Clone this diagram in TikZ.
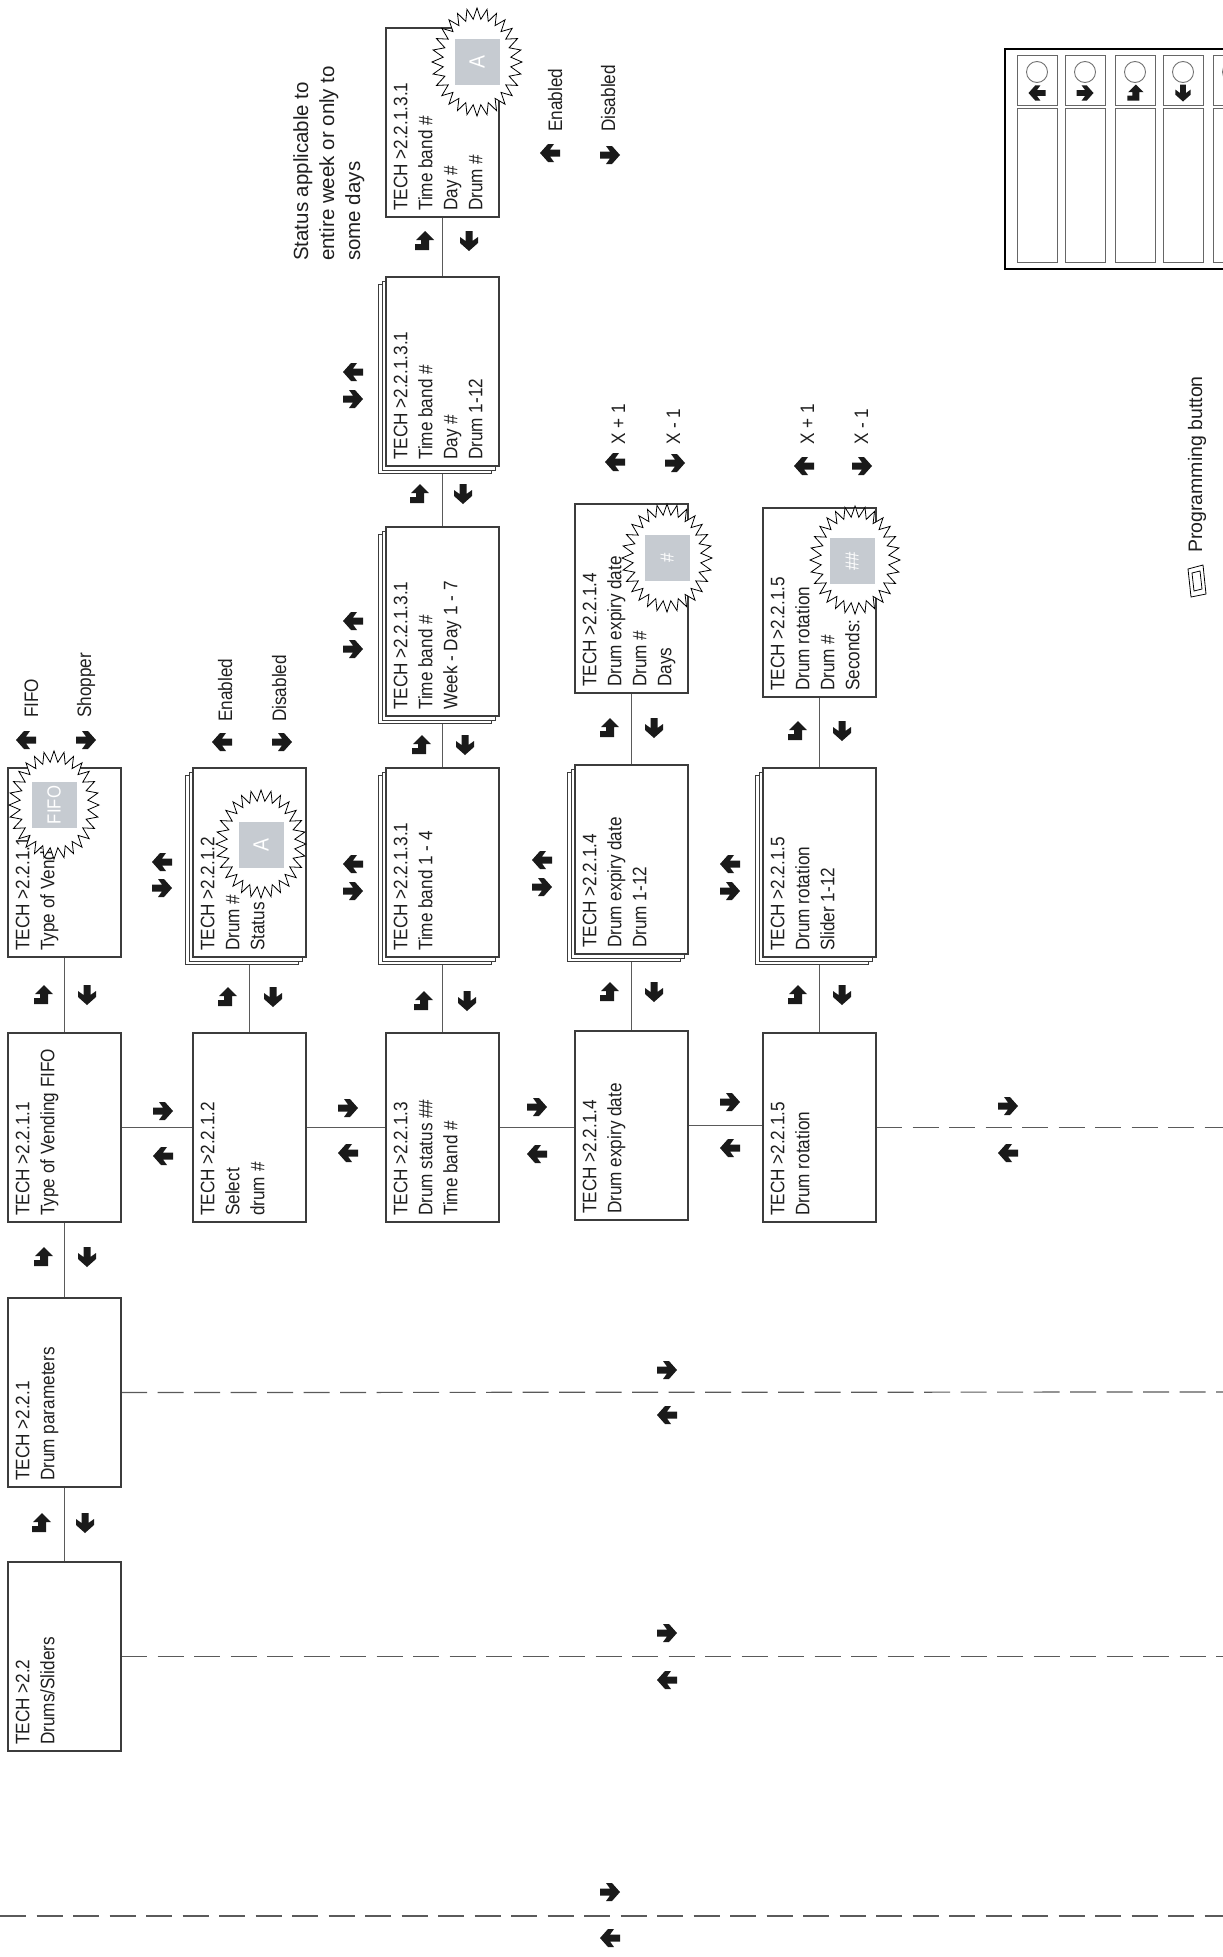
\documentclass[tikz,border=0pt]{standalone}
\usepackage{fontspec}
\setmainfont{Liberation Sans}
\newfontfamily\cnd[FakeStretch=0.88]{Liberation Sans}
\usetikzlibrary{backgrounds}
\definecolor{boxc}{HTML}{3C3C3C}
\definecolor{linec}{HTML}{5A5A5A}
\definecolor{sqgray}{HTML}{C6CBD1}
\definecolor{arrc}{HTML}{1A1A1A}
\tikzset{
 rarr/.pic={\fill[arrc] (-10,-3.5) -- (0,-3.5) -- (-4,-9) -- (2,-9) -- (10,0) -- (2,9) -- (-4,9) -- (0,3.5) -- (-10,3.5) -- cycle;},
 larr/.pic={\fill[arrc] (10,-3.5) -- (0,-3.5) -- (4,-9) -- (-2,-9) -- (-10,0) -- (-2,9) -- (4,9) -- (0,3.5) -- (10,3.5) -- cycle;},
 darr/.pic={\fill[arrc] (-3.5,-10) -- (-3.5,0) -- (-9,-4) -- (-9,2) -- (0,10) -- (9,2) -- (9,-4) -- (3.5,0) -- (3.5,-10) -- cycle;},
 uarr/.pic={\fill[arrc] (1,-10) -- (10,-1) -- (5,-1) -- (5,9) -- (-9,9) -- (-9,3) -- (-3,3) -- (-3,-1) -- (-8,-1) -- cycle;},
}
\newcommand\mksheets[2]{%
 \draw[sheet] (#1-7.5,#2+7.5) rectangle ++(113,189);
 \draw[sheet] (#1-4,#2+4) rectangle ++(113,189);}
\newcommand\mkburst[2]{%
 \filldraw[fill=white,draw=black,line width=0.8pt] plot[variable=\t,samples at={0,...,55}]
 ({#1+(45-11*mod(\t,2))*cos(\t*6.428571)},{#2+(54-11*mod(\t,2))*sin(\t*6.428571)}) -- cycle;}
\begin{document}
\begin{tikzpicture}[x=1pt,y=-1pt,
 box/.style={draw=boxc,line width=1.2pt,fill=white,minimum width=113pt,minimum height=189pt,inner sep=0pt,outer sep=0pt,anchor=north west},
 sheet/.style={draw=boxc,line width=1.0pt,fill=white},
 txt/.style={rotate=90,anchor=north west,align=left,inner sep=0pt,font=\cnd\fontsize{19.5}{25}\selectfont,text=black!88},
 lbl/.style={rotate=90,anchor=base west,inner sep=0pt,font=\cnd\fontsize{19.5}{25}\selectfont,text=black!88},
 conn/.style={draw=linec,line width=1.2pt},
 dashc/.style={draw=linec,line width=1.2pt,dash pattern=on 26pt off 10.5pt},
 sq/.style={fill=sqgray,minimum width=46pt,minimum height=45pt,inner sep=0pt,rotate=90,text=white,font=\cnd\fontsize{19}{19}\selectfont},
 btn/.style={draw=black!60,line width=0.9pt},
]
\useasboundingbox (0,0) rectangle (1223,1957);
\clip (0,0) rectangle (1223,1957);

% ---------- column 1 ----------
\node[box] (A1) at (8,768) {};
\node[txt] (A1t) at ([shift={(7.5,-6)}]A1.south west) {TECH >2.2.1.1\\Type of Vending};
\node[box] (B1) at (8,1033) {};
\node[txt] (B1t) at ([shift={(7.5,-6)}]B1.south west) {TECH >2.2.1.1\\Type of Vending FIFO};
\node[box] (C1) at (8,1298) {};
\node[txt] (C1t) at ([shift={(7.5,-6)}]C1.south west) {TECH >2.2.1\\Drum parameters};
\node[box] (D1) at (8,1562) {};
\node[txt] (D1t) at ([shift={(7.5,-6)}]D1.south west) {TECH >2.2\\Drums/Sliders};

% ---------- column 2 ----------
\mksheets{193}{768}
\node[box] (S2) at (193,768) {};
\node[txt] (S2t) at ([shift={(7.5,-6)}]S2.south west) {TECH >2.2.1.2\\Drum \#\\Status};
\node[box] (B2) at (193,1033) {};
\node[txt] (B2t) at ([shift={(7.5,-6)}]B2.south west) {TECH >2.2.1.2\\Select\\drum \#};

% ---------- column 3 ----------
\node[box] (T3) at (386,28) {};
\node[txt] (T3t) at ([shift={(7.5,-6)}]T3.south west) {TECH >2.2.1.3.1\\Time band \#\\Day \#\\Drum \#};
\mksheets{386}{277}
\node[box] (S3a) at (386,277) {};
\node[txt] (S3at) at ([shift={(7.5,-6)}]S3a.south west) {TECH >2.2.1.3.1\\Time band \#\\Day \#\\Drum 1-12};
\mksheets{386}{527}
\node[box] (S3b) at (386,527) {};
\node[txt] (S3bt) at ([shift={(7.5,-6)}]S3b.south west) {TECH >2.2.1.3.1\\Time band \#\\Week - Day 1 - 7};
\mksheets{386}{768}
\node[box] (S3c) at (386,768) {};
\node[txt] (S3ct) at ([shift={(7.5,-6)}]S3c.south west) {TECH >2.2.1.3.1\\Time band 1 - 4};
\node[box] (B3) at (386,1033) {};
\node[txt] (B3t) at ([shift={(7.5,-6)}]B3.south west) {TECH >2.2.1.3\\Drum status \#\#\\Time band \#};

% ---------- column 4 ----------
\node[box] (T4) at (575,504) {};
\node[txt] (T4t) at ([shift={(7.5,-6)}]T4.south west) {TECH >2.2.1.4\\Drum expiry date\\Drum \#\\Days};
\mksheets{575}{765}
\node[box] (S4) at (575,765) {};
\node[txt] (S4t) at ([shift={(7.5,-6)}]S4.south west) {TECH >2.2.1.4\\Drum expiry date\\Drum 1-12};
\node[box] (B4) at (575,1031) {};
\node[txt] (B4t) at ([shift={(7.5,-6)}]B4.south west) {TECH >2.2.1.4\\Drum expiry date};

% ---------- column 5 ----------
\node[box] (T5) at (763,508) {};
\node[txt] (T5t) at ([shift={(7.5,-6)}]T5.south west) {TECH >2.2.1.5\\Drum rotation\\Drum \#\\Seconds:};
\mksheets{763}{768}
\node[box] (S5) at (763,768) {};
\node[txt] (S5t) at ([shift={(7.5,-6)}]S5.south west) {TECH >2.2.1.5\\Drum rotation\\Slider 1-12};
\node[box] (B5) at (763,1033) {};
\node[txt] (B5t) at ([shift={(7.5,-6)}]B5.south west) {TECH >2.2.1.5\\Drum rotation};

% ---------- starbursts ----------
\mkburst{54}{805}
\node[sq] (q1) at (54,805) {FIFO};
\mkburst{261}{844}
\node[sq,font=\cnd\fontsize{22}{22}\selectfont] (q2) at (261,845) {A};
\mkburst{477}{62}
\node[sq,font=\cnd\fontsize{22}{22}\selectfont] (q3) at (477,62) {A};
\mkburst{667}{558}
\node[sq] (q4) at (667,558) {\#};
\mkburst{855}{560}
\node[sq] (q5) at (852,561) {\#\#};

% ---------- connector end points ----------
\coordinate (eB) at (1223,1127.5);
\coordinate (eC) at (1223,1392);
\coordinate (eD) at (1223,1656.5);
\coordinate (eL) at (0,1916);
\coordinate (eR) at (1223,1916);

\begin{pgfonlayer}{background}
\fill[white] (0,0) rectangle (1223,1957);
\draw[conn] (A1.south) -- (B1.north);
\draw[conn] (B1.south) -- (C1.north);
\draw[conn] (C1.south) -- (D1.north);
\draw[conn] (S2.south) -- (B2.north);
\draw[conn] (T3.south) -- (S3a.north);
\draw[conn] (S3a.south) -- (S3b.north);
\draw[conn] (S3b.south) -- (S3c.north);
\draw[conn] (S3c.south) -- (B3.north);
\draw[conn] (T4.south) -- (S4.north);
\draw[conn] (S4.south) -- (B4.north);
\draw[conn] (T5.south) -- (S5.north);
\draw[conn] (S5.south) -- (B5.north);
\draw[conn] (B1.east) -- (B1.east -| B2.west);
\draw[conn] (B2.east) -- (B3.west);
\draw[conn] (B3.east) -- (B3.east -| B4.west);
\draw[conn] (B4.east) -- (B4.east -| B5.west);
\draw[dashc] (B5.east) -- (eB);
\draw[dashc] (C1.east) -- (eC);
\draw[dashc] (D1.east) -- (eD);
\draw[dashc] (eL) -- (eR);
\end{pgfonlayer}

% ---------- vertical navigation arrows ----------
\pic at (43,995) {uarr};   \pic at (87,995) {darr};
\pic at (43,1257) {uarr};  \pic at (87,1257) {darr};
\pic at (41,1523) {uarr};  \pic at (85,1523) {darr};
\pic at (227,997) {uarr};  \pic at (273,997) {darr};
\pic at (423,1001) {uarr}; \pic at (467,1001) {darr};
\pic at (421,745) {uarr};  \pic at (465,745) {darr};
\pic at (419,494) {uarr};  \pic at (463,494) {darr};
\pic at (424,241) {uarr};  \pic at (469,241) {darr};
\pic at (609,728) {uarr};  \pic at (654,728) {darr};
\pic at (609,992) {uarr};  \pic at (654,992) {darr};
\pic at (797,731) {uarr};  \pic at (842,731) {darr};
\pic at (797,995) {uarr};  \pic at (842,995) {darr};

% ---------- horizontal navigation arrows ----------
\pic at (163,1111) {rarr}; \pic at (163,1156) {larr};
\pic at (348,1108) {rarr}; \pic at (348,1153) {larr};
\pic at (537,1107) {rarr}; \pic at (537,1154) {larr};
\pic at (730,1102) {rarr}; \pic at (730,1148) {larr};
\pic at (1008,1106) {rarr}; \pic at (1008,1153) {larr};
\pic at (667,1370) {rarr}; \pic at (667,1415) {larr};
\pic at (667,1633) {rarr}; \pic at (667,1680) {larr};
\pic at (610,1892) {rarr}; \pic at (610,1938) {larr};

% ---------- stacked-sheet arrows ----------
\pic at (162,862) {larr}; \pic at (162,888) {rarr};
\pic at (353,372) {larr}; \pic at (353,399) {rarr};
\pic at (353,621) {larr}; \pic at (353,649) {rarr};
\pic at (353,864) {larr}; \pic at (353,891) {rarr};
\pic at (542,860) {larr}; \pic at (542,887) {rarr};
\pic at (730,864) {larr}; \pic at (730,891) {rarr};

% ---------- option labels ----------
\pic at (26,740) {larr};  \node[lbl] (lfifo) at (38,718) {FIFO};
\pic at (86,740) {rarr};  \node[lbl] (lshop) at (91,718) {Shopper};
\pic at (222,742) {larr}; \node[lbl] (len2) at (232,722) {Enabled};
\pic at (282,742) {rarr}; \node[lbl] (ldis2) at (286,722) {Disabled};
\pic at (550,153) {larr}; \node[lbl] (len3) at (562,132) {Enabled};
\pic at (610,155) {rarr}; \node[lbl] (ldis3) at (615,132) {Disabled};
\pic at (615,462) {larr}; \node[lbl] (lp4) at (625,445) {X + 1};
\pic at (675,463) {rarr}; \node[lbl] (lm4) at (680,445) {X - 1};
\pic at (804,466) {larr}; \node[lbl] (lp5) at (814,445) {X + 1};
\pic at (862,466) {rarr}; \node[lbl] (lm5) at (868,445) {X - 1};

% ---------- note ----------
\node[rotate=90,anchor=north west,align=left,inner sep=0pt,font=\fontsize{20.5}{26}\selectfont,text=black!88] (status) at (293,261) {Status applicable to\\entire week or only to\\some days};

% ---------- panel ----------
\draw[line width=2.6pt] (1005,49) rectangle (1260,269);
\foreach \bx in {1017,1065,1115,1163,1213}{
  \draw[btn] (\bx,55) rectangle ++(40,50);
  \draw[btn] (\bx,108) rectangle ++(40,154);
  \draw[btn,draw=black!55] (\bx+20,72) circle (10.5);
}
\pic[scale=0.85] at (1037,93) {larr};
\pic[scale=0.85] at (1085,93) {rarr};
\pic[scale=0.85] at (1135,93) {uarr};
\pic[scale=0.85] at (1183,93) {darr};

\node[rotate=90,anchor=west,inner sep=0pt,font=\fontsize{19.5}{24}\selectfont,text=black!88] (prog) at (1197,553) {Programming button};
\draw[line width=0.8pt] (1188,569) -- (1203,565) -- (1206,594) -- (1191,597) -- cycle;
\draw[line width=0.8pt] (1192,573) -- (1200,571) -- (1202,589) -- (1194,591) -- cycle;
\end{tikzpicture}
\end{document}
